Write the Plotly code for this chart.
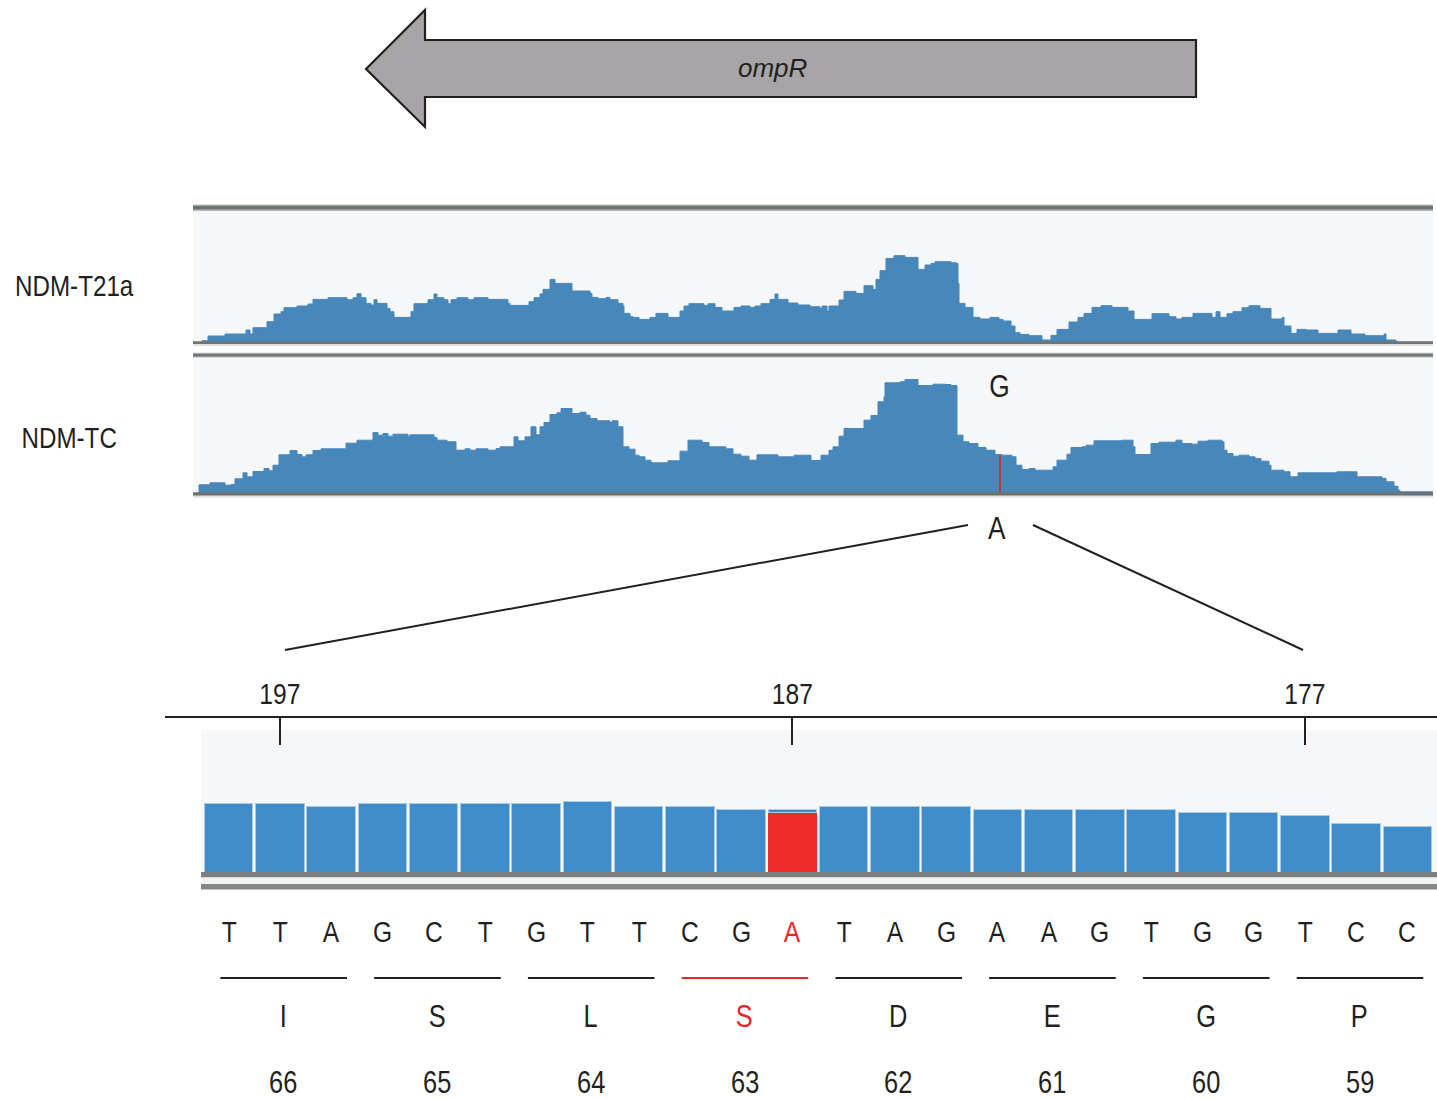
import plotly.graph_objects as go

W, H = 1437, 1099

# ---------------- data ----------------
GENE_NAME = "ompR"
TRACK_NAMES = ["NDM-T21a", "NDM-TC"]
TRACK_LEN = 1240  # bp shown in the coverage tracks

T21A_POS = [0, 9, 15, 32, 53, 57, 60, 74, 81, 88, 91, 104, 115, 120, 135, 154, 160, 164, 168, 173,
            178, 181, 184, 194, 197, 201, 218, 221, 235, 241, 244, 251, 255, 258, 264, 275, 281, 295,
            315, 317, 336, 341, 347, 350, 357, 362, 379, 397, 399, 405, 413, 417, 425, 430, 431, 437,
            440, 446, 457, 463, 475, 487, 491, 496, 511, 515, 522, 529, 541, 548, 557, 562, 568, 577,
            582, 585, 595, 605, 617, 627, 629, 634, 636, 646, 651, 663, 671, 680, 683, 687, 693, 701,
            712, 725, 732, 738, 742, 758, 763, 765, 766, 772, 780, 787, 797, 806, 810, 818, 822, 827,
            836, 849, 858, 864, 876, 885, 891, 899, 908, 919, 935, 941, 959, 976, 983, 989, 1000, 1019,
            1023, 1027, 1034, 1040, 1049, 1056, 1067, 1078, 1089, 1091, 1098, 1104, 1113, 1125, 1145,
            1158, 1172, 1191, 1193, 1203, 1205, 1240]
T21A_DEPTH = [0, 2, 6.7, 8.7, 12.7, 8.7, 15, 21, 28.7, 31, 35, 36.7, 38.7, 43.3, 45, 43, 45, 49, 45, 39.3,
              37.7, 43, 39.3, 34.3, 31, 25.3, 31, 39, 43, 48.7, 45, 43, 39, 43, 45, 43, 45, 43.3,
              39.3, 37.3, 41, 45, 48.7, 53.3, 63.3, 59.3, 51.7, 49.3, 45.3, 44, 45.3, 43, 39.3, 36.7, 29.3, 26,
              25.3, 23.3, 25.3, 29.3, 25.3, 31.7, 36.7, 39, 37.3, 39, 35.3, 31.7, 35.3, 36.7, 35.3, 36.7, 39, 43.3,
              48.7, 43.3, 39.7, 37.7, 36, 34.3, 36.7, 31.7, 36.7, 42.7, 51.3, 49.3, 57, 53.3, 63.3, 72, 84.3, 87,
              85.3, 73.3, 77.7, 79.3, 81, 80, 79.3, 59.3, 39.3, 35.3, 25.3, 23.7, 25.3, 23.3, 21.7, 16.7, 10, 8.3,
              7, 2.7, 7.3, 13.3, 20.7, 25.3, 29.3, 35.3, 37, 35.3, 31.7, 23.3, 29, 26, 23.7, 25.3, 29.3, 25.3,
              31, 25.3, 29, 31, 35, 37, 34.3, 23.7, 25.3, 16.7, 9.3, 13.3, 12.7, 9.3, 12.7,
              8.7, 7, 8.7, 2.7, 1, 0, 0]

TC_POS = [0, 6, 17, 32, 38, 42, 50, 54, 60, 71, 76, 80, 86, 97, 104, 109, 113, 120, 128, 153, 164,
          180, 185, 190, 195, 200, 215, 217, 241, 244, 254, 263, 272, 277, 283, 295, 303, 307, 321,
          325, 332, 338, 343, 347, 351, 357, 364, 368, 379, 387, 393, 397, 404, 417, 419, 425, 430,
          436, 442, 446, 452, 458, 475, 487, 495, 509, 516, 533, 540, 548, 556, 564, 585, 601, 618,
          628, 636, 640, 646, 651, 671, 678, 685, 691, 692, 707, 712, 725, 740, 752, 758, 764, 770,
          776, 785, 793, 802, 809, 819, 823, 829, 836, 842, 860, 864, 874, 878, 889, 893, 901, 929,
          940, 942, 958, 966, 983, 989, 999, 1005, 1015, 1029, 1031, 1034, 1040, 1046, 1056, 1062,
          1068, 1076, 1078, 1091, 1097, 1105, 1144, 1164, 1189, 1193, 1201, 1205, 1207, 1240]
TC_DEPTH = [0, 8.7, 10.7, 8.3, 9, 14.7, 20.7, 16.7, 22, 25, 22.7, 28.3, 38.7, 43, 39, 36.7, 38.7, 43, 44.7, 50.3, 53.3,
            61, 58.3, 60, 57.3, 59.3, 57.3, 58.7, 56, 53.3, 51.7, 43.3, 44.7, 43.3, 44.7, 43.3, 45, 46.7, 56.7,
            52.7, 56.7, 66.7, 58.7, 66.7, 71, 79, 80.7, 85, 80, 81.3, 78.3, 75, 72.7, 71, 72.7, 66.7, 46.7,
            44.3, 38.3, 36.7, 33.3, 30.7, 32.7, 42.3, 53.3, 51, 46.7, 44.7, 39.3, 37.3, 33.3, 38.7, 36.7, 38.3, 33,
            38.3, 43.3, 46.7, 57.3, 65, 73.3, 78, 91.7, 96.7, 110.7, 111.7, 114, 108, 109.3, 109, 108, 58.3, 51.7,
            50, 46, 43.3, 39, 38.3, 36.7, 28.3, 24, 25, 23.3, 26.7, 33.3, 39.3, 46, 46.7, 48.3, 52.7, 53.3,
            46.7, 39, 50, 51.3, 53.3, 50, 49.3, 52.3, 53.3, 51.7, 43.3, 40, 37.3, 38.3, 36.7, 35,
            32.3, 28.3, 23.3, 21.7, 16.7, 20.7, 21.7, 16.7, 15.3, 11.7, 7.3, 3.3, 1.7, 1.7]

MUT_POS = 807      # position of the SNP inside the coverage track
MUT_DEPTH = 38     # depth of the mismatching (alt) reads there
MUT_REF, MUT_ALT = "G", "A"

ZOOM_POS = list(range(198, 174, -1))            # genomic positions of the zoomed bars
REF_DEPTH = [69, 69, 66, 69, 69, 69, 69, 71, 66, 66, 63, 3, 66, 66, 66, 63, 63, 63, 63, 60, 60, 57, 49, 46]
ALT_DEPTH = [None] * 11 + [60] + [None] * 12
NUCLEOTIDES = list("TTAGCTGTTCGATAGAAGTGGTCC")
AMINO_ACIDS = ["I", "S", "L", "S", "D", "E", "G", "P"]
CODON_NUMBERS = [66, 65, 64, 63, 62, 61, 60, 59]
MUT_CODON = 63
MUT_ZOOM_POS = 187
RULER_TICKS = [197, 187, 177]

# ---------------- style ----------------
FONT = "Liberation Sans, Arial, Helvetica, sans-serif"
INK = "#231f20"
RED = "#e8262a"
COV = "#4787ba"
BAR = "#3f8cca"
BAR_RED = "#ee2a2a"
PANEL = "#f5f7f9"


def px(x):
    return x / W


def py(y):
    return 1 - y / H


fig = go.Figure()

# coverage tracks
fig.add_trace(go.Scatter(x=T21A_POS, y=T21A_DEPTH, mode="lines", line_shape="hv",
                         line=dict(color=COV, width=1), fill="tozeroy", fillcolor=COV,
                         xaxis="x", yaxis="y", hoverinfo="skip", showlegend=False))
fig.add_trace(go.Scatter(x=TC_POS, y=TC_DEPTH, mode="lines", line_shape="hv",
                         line=dict(color=COV, width=1), fill="tozeroy", fillcolor=COV,
                         xaxis="x2", yaxis="y2", hoverinfo="skip", showlegend=False))
fig.add_trace(go.Scatter(x=[MUT_POS, MUT_POS], y=[0, MUT_DEPTH], mode="lines",
                         line=dict(color="#c8343a", width=2), xaxis="x2", yaxis="y2",
                         hoverinfo="skip", showlegend=False))

# zoomed coverage bars
fig.add_trace(go.Bar(x=ZOOM_POS, y=ALT_DEPTH, marker=dict(color=BAR_RED, line=dict(width=0)),
                     xaxis="x3", yaxis="y3", width=0.95, showlegend=False, hoverinfo="skip"))
fig.add_trace(go.Bar(x=ZOOM_POS, y=REF_DEPTH, marker=dict(color=BAR, line=dict(color="#a9cbe8", width=1)),
                     xaxis="x3", yaxis="y3", width=0.95, showlegend=False, hoverinfo="skip"))
# invisible trace so the ruler axis exists
fig.add_trace(go.Scatter(x=[RULER_TICKS[0]], y=[0.5], mode="markers", marker=dict(opacity=0),
                         xaxis="x4", yaxis="y4", hoverinfo="skip", showlegend=False))

# axis geometry (pixels)
TX0, TX1 = 193, 1433
BX0, BX1 = 203, 1433
T1_TOP, T1_BOT = 210, 342.7
T2_TOP, T2_BOT = 357, 493.5
B_TOP, B_BOT = 730, 872
RUL_X0, RUL_X1, RUL_Y, RUL_TICK = 165, 1437, 718, 27

units_per_px = (ZOOM_POS[0] - ZOOM_POS[-1] + 1) / (BX1 - BX0)
bar_left = ZOOM_POS[0] + 0.5
bar_right = ZOOM_POS[-1] - 0.5
rul_left = bar_left + (BX0 - RUL_X0) * units_per_px
rul_right = bar_right - (RUL_X1 - BX1) * units_per_px

hidden = dict(visible=False, showgrid=False, zeroline=False)
fig.update_layout(
    width=W, height=H, margin=dict(l=0, r=0, t=0, b=0),
    paper_bgcolor="white", plot_bgcolor="rgba(0,0,0,0)",
    barmode="stack", bargap=0.05,
    font=dict(family=FONT, color=INK),
    xaxis=dict(domain=[px(TX0), px(TX1)], range=[0, TRACK_LEN], anchor="y", **hidden),
    yaxis=dict(domain=[py(T1_BOT), py(T1_TOP)], range=[0, T1_BOT - T1_TOP], anchor="x", **hidden),
    xaxis2=dict(domain=[px(TX0), px(TX1)], range=[0, TRACK_LEN], anchor="y2", **hidden),
    yaxis2=dict(domain=[py(T2_BOT), py(T2_TOP)], range=[0, T2_BOT - T2_TOP], anchor="x2", **hidden),
    xaxis3=dict(domain=[px(BX0), px(BX1)], range=[bar_left, bar_right], anchor="y3", **hidden),
    yaxis3=dict(domain=[py(B_BOT), py(B_TOP)], range=[0, B_BOT - B_TOP], anchor="x3", **hidden),
    xaxis4=dict(domain=[px(RUL_X0), px(RUL_X1)], range=[rul_left, rul_right], anchor="y4",
                side="top", showline=True, linecolor=INK, linewidth=2, mirror=False,
                ticks="inside", ticklen=RUL_TICK, tickwidth=2, tickcolor=INK,
                tickvals=RULER_TICKS, ticktext=[str(t) for t in RULER_TICKS],
                tickfont=dict(size=30, family=FONT, color=INK), ticklabelstandoff=0,
                showgrid=False, zeroline=False, fixedrange=True),
    yaxis4=dict(domain=[py(RUL_Y + 60), py(RUL_Y)], range=[0, 1], anchor="x4", **hidden),
)

shapes = []


def rect(x0, y0, x1, y1, color, layer="below"):
    shapes.append(dict(type="rect", xref="paper", yref="paper", x0=px(x0), x1=px(x1),
                       y0=py(y1), y1=py(y0), fillcolor=color, line=dict(width=0), layer=layer))


def seg(x0, y0, x1, y1, color=INK, width=2):
    shapes.append(dict(type="line", xref="paper", yref="paper", x0=px(x0), x1=px(x1),
                       y0=py(y0), y1=py(y1), line=dict(color=color, width=width), layer="above"))


# gene arrow
arrow = (f"M {px(366)},{py(69)} L {px(425)},{py(10)} L {px(425)},{py(40)} L {px(1196)},{py(40)} "
         f"L {px(1196)},{py(97)} L {px(425)},{py(97)} L {px(425)},{py(127)} Z")
shapes.append(dict(type="path", xref="paper", yref="paper", path=arrow, fillcolor="#a7a5a8",
                   line=dict(color=INK, width=2.2), layer="above"))

# track panels
rect(TX0, T1_TOP, TX1, T1_BOT, PANEL)
rect(TX0, 204.5, TX1, 211, "#b9bcbc", "above")
rect(TX0, 205.8, TX1, 209.6, "#6c7171", "above")
rect(TX0, 341.3, TX1, 344.2, "#6f7373", "above")
rect(TX0, 344.2, TX1, 346, "#dfe1e1", "above")
rect(TX0, T2_TOP, TX1, T2_BOT, PANEL)
rect(TX0, 352.8, TX1, 357.5, "#b5b8b8", "above")
rect(TX0, 353.8, TX1, 356.6, "#727676", "above")
rect(TX0, 492.3, TX1, 495.8, "#6d7171", "above")
rect(TX0, 495.8, TX1, 497.5, "#dcdede", "above")

# zoom panel
rect(201, B_TOP, W, B_BOT, PANEL)
rect(201, 872, W, 877.5, "#7c7e7f", "above")
rect(201, 877.5, W, 884, "#f1f2f2", "above")
rect(201, 884, W, 889.5, "#858788", "above")

# zoom connector lines
seg(285, 650, 968, 525)
seg(1033, 525, 1303, 650)

# codon underlines
for i, (aa, num) in enumerate(zip(AMINO_ACIDS, CODON_NUMBERS)):
    p_first = ZOOM_POS[3 * i]
    p_last = ZOOM_POS[3 * i + 2]
    col = RED if num == MUT_CODON else INK
    shapes.append(dict(type="line", xref="x3", yref="paper", x0=p_first + 0.16, x1=p_last - 0.31,
                       y0=py(978), y1=py(978), line=dict(color=col, width=2.2), layer="above"))

fig.update_layout(shapes=shapes)

ann = []


def text(x, y, s, size=30, color=INK, xanchor="center", xref="paper", italic=False):
    ann.append(dict(x=x if xref != "paper" else px(x), y=py(y), xref=xref, yref="paper", text=s,
                    showarrow=False, xanchor=xanchor, yanchor="middle", borderpad=0,
                    font=dict(size=size, color=color, family=FONT,
                              style="italic" if italic else "normal")))


text(773, 68, GENE_NAME, size=26, italic=True)
text(74, 285, TRACK_NAMES[0], size=29.5)
text(69, 438, TRACK_NAMES[1], size=29.5)
text(999, 386, MUT_REF, size=32)
text(997, 528, MUT_ALT, size=32)

for p, nt in zip(ZOOM_POS, NUCLEOTIDES):
    text(p, 931, nt, size=30, color=RED if p == MUT_ZOOM_POS else INK, xref="x3")

for i, (aa, num) in enumerate(zip(AMINO_ACIDS, CODON_NUMBERS)):
    mid = ZOOM_POS[3 * i + 1] - 0.07
    col = RED if num == MUT_CODON else INK
    text(mid, 1016, aa, size=31, color=col, xref="x3")
    text(mid, 1082, str(num), size=31, xref="x3")

fig.update_layout(annotations=ann)

# remove the page margin and draw the labels in a condensed (narrow) face
POST = """
document.documentElement.style.margin='0';
document.body.style.margin='0';
document.body.style.overflow='hidden';
var gd = document.getElementById('{plot_id}');
function condense(){
  gd.querySelectorAll('text.annotation-text, g.x4tick text, g.xtick text').forEach(function(t){
    if (t.textContent === 'ompR') return;
    var cur = t.getAttribute('transform') || '';
    if (t.getAttribute('data-ct') === cur && cur !== '') return;
    var b = t.getBBox();
    var cx = b.x + b.width / 2;
    var nt = cur + ' translate(' + cx + ',0) scale(0.82,1) translate(' + (-cx) + ',0)';
    t.setAttribute('transform', nt);
    t.setAttribute('data-ct', nt);
  });
}
condense();
gd.on('plotly_afterplot', condense);
setTimeout(condense, 30);
setTimeout(condense, 300);
"""

fig.write_html("out.html", post_script=POST, config={"displayModeBar": False})
